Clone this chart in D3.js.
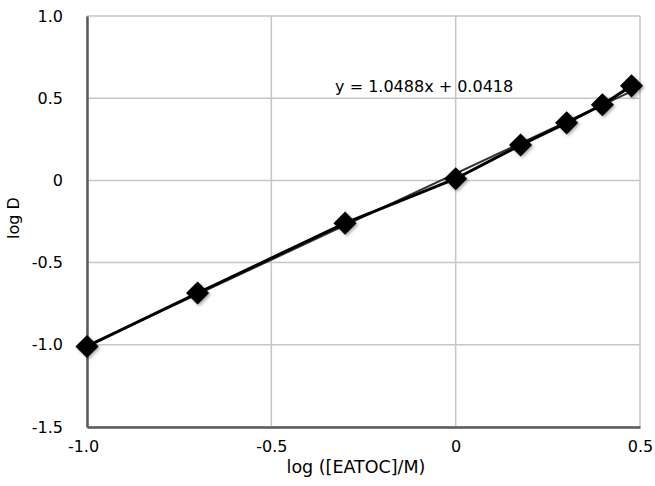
<!DOCTYPE html>
<html>
<head>
<meta charset="utf-8">
<script src="https://cdn.jsdelivr.net/npm/d3@7/dist/d3.min.js"></script>
<style>
  body { margin: 0; background: #fff; }
  svg text { font-family: "DejaVu Sans", "Liberation Sans", Arial, sans-serif; fill: #000; }
</style>
</head>
<body>
<div id="chart"></div>
<script>
// values
const logConc = [-1.0, -0.70, -0.30, 0.0, 0.176, 0.301, 0.398, 0.477];
const logD = [-1.01, -0.685, -0.26, 0.01, 0.215, 0.35, 0.46, 0.575];
const xTicks = [-1.0, -0.5, 0, 0.5];
const yTicks = [-1.5, -1.0, -0.5, 0, 0.5, 1.0];
const slope = 1.0488, intercept = 0.0418;

const margin = { top: 16, right: 15, bottom: 59, left: 87 };
const width = 655 - margin.left - margin.right;
const height = 486 - margin.top - margin.bottom;

// plain hyphen like the original, not the unicode minus
const fmt = d => d === 0 ? "0" : d.toFixed(1);

const x = d3.scaleLinear().domain([-1.0, 0.5]).range([0, width]);
const y = d3.scaleLinear().domain([-1.5, 1.0]).range([height, 0]);

const svg = d3.select("#chart").append("svg")
    .attr("width", 655)
    .attr("height", 486);

const defs = svg.append("defs");
const shadow = defs.append("filter").attr("id", "shadow")
    .attr("x", "-50%").attr("y", "-50%").attr("width", "200%").attr("height", "200%");
shadow.append("feDropShadow")
    .attr("dx", 1.5).attr("dy", 1.5).attr("stdDeviation", 1.5)
    .attr("flood-color", "#000").attr("flood-opacity", 0.35);

const g = svg.append("g")
    .attr("transform", "translate(" + margin.left + "," + margin.top + ")");

// grid
g.append("g").selectAll("line")
    .data(xTicks)
    .enter().append("line")
    .attr("x1", d => x(d)).attr("x2", d => x(d))
    .attr("y1", 0).attr("y2", height)
    .attr("stroke", "#c6c6c6").attr("stroke-width", 1.5);
g.append("g").selectAll("line")
    .data(yTicks)
    .enter().append("line")
    .attr("x1", 0).attr("x2", width)
    .attr("y1", d => y(d)).attr("y2", d => y(d))
    .attr("stroke", "#c6c6c6").attr("stroke-width", 1.5);

// axes (left and bottom darker)
const xAxis = g.append("g")
    .attr("transform", "translate(0," + height + ")")
    .call(d3.axisBottom(x).tickValues(xTicks).tickFormat(fmt).tickSize(0).tickPadding(14));
xAxis.select(".domain").attr("stroke", "#5a5a5a").attr("stroke-width", 2.5);
xAxis.selectAll("text").style("font-size", "16px").attr("fill", "#000")
    .attr("dx", d => d === -1.0 ? "-4" : "0");

const yAxis = g.append("g")
    .call(d3.axisLeft(y).tickValues(yTicks).tickFormat(fmt).tickSize(0).tickPadding(24));
yAxis.select(".domain").attr("stroke", "#5a5a5a").attr("stroke-width", 2.5);
yAxis.selectAll("text").style("font-size", "16px").attr("fill", "#000");

// trend line
g.append("line")
    .attr("x1", x(-1.0)).attr("y1", y(slope * -1.0 + intercept))
    .attr("x2", x(0.477)).attr("y2", y(slope * 0.477 + intercept))
    .attr("stroke", "#333").attr("stroke-width", 2);

// data line
const pts = logConc.map((v, i) => [v, logD[i]]);
g.append("path")
    .datum(pts)
    .attr("fill", "none")
    .attr("stroke", "#000")
    .attr("stroke-width", 3)
    .attr("d", d3.line().x(d => x(d[0])).y(d => y(d[1])));

// markers
g.append("g").selectAll("path")
    .data(pts)
    .enter().append("path")
    .attr("transform", d => "translate(" + x(d[0]) + "," + y(d[1]) + ")")
    .attr("d", d3.symbol().type(d3.symbolDiamond2).size(340))
    .attr("fill", "#000")
    .attr("filter", "url(#shadow)");

// equation
g.append("text")
    .attr("x", x(-0.327))
    .attr("y", y(0.5) - 6)
    .style("font-size", "16px")
    .text("y = 1.0488x + 0.0418");

// axis titles
svg.append("text")
    .attr("x", 356)
    .attr("y", 473)
    .attr("text-anchor", "middle")
    .style("font-size", "17.5px")
    .text("log ([EATOC]/M)");

svg.append("text")
    .attr("transform", "rotate(-90)")
    .attr("x", -218)
    .attr("y", 19)
    .attr("text-anchor", "middle")
    .style("font-size", "16px")
    .text("log D");
</script>
</body>
</html>
